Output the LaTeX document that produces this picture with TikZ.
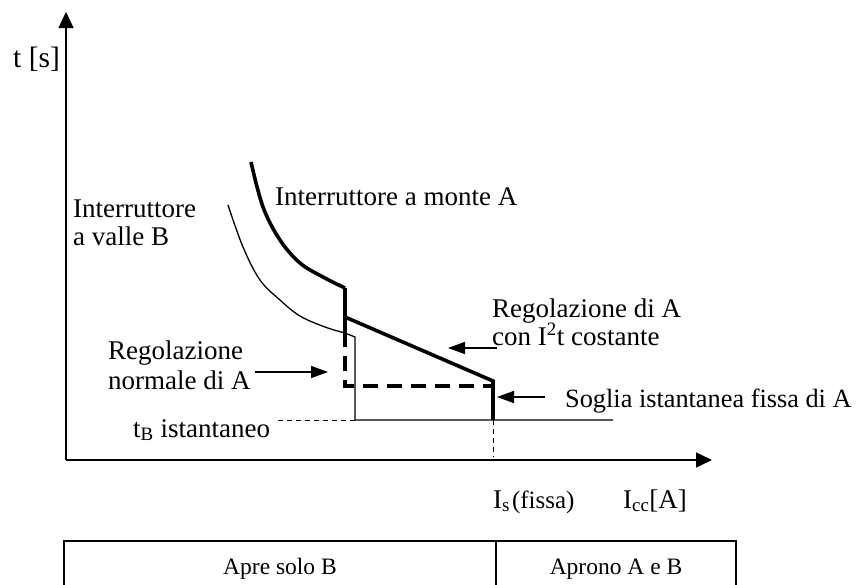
\documentclass[tikz,border=0pt]{standalone}
\usepackage{fontspec}
\setmainfont{Liberation Serif}
\usetikzlibrary{arrows.meta}
\tikzset{
  lbl/.style={inner sep=0pt, anchor=base west, font=\fontsize{27}{31}\selectfont},
  cell/.style={inner sep=0pt, anchor=base, font=\fontsize{23.5}{27}\selectfont},
  axis/.style={line width=1.5pt, -{Triangle[length=16pt,width=15pt]}},
  thickA/.style={line width=3.6pt},
  thinB/.style={line width=1.3pt},
  dashA/.style={line width=3.6pt, dash pattern=on 15pt off 9pt},
  guide/.style={line width=1pt, dash pattern=on 5pt off 4pt},
  pointer/.style={line width=1.6pt, -{Triangle[length=17pt,width=12pt]}},
  tablebox/.style={line width=1.8pt}
}
\begin{document}
\begin{tikzpicture}[x=1pt,y=-1pt]
\useasboundingbox (0,0) rectangle (857,584);
% axes
\coordinate (O) at (66,460);
\coordinate (ytip) at (66,12);
\coordinate (xtip) at (712,460);
\draw[axis] (O) -- (ytip);
\draw[axis] (O) -- (xtip);
\node[lbl, font=\fontsize{29.5}{33}\selectfont] (tlab) at (13,67) {t [s]};
% curve A
\coordinate (A1) at (345,288);
\coordinate (A2) at (345,332);
\coordinate (A3) at (345,317);
\coordinate (A4) at (493,381);
\coordinate (A5) at (493,420);
\coordinate (A6) at (345,386);
\coordinate (A7) at (493,386);
\draw[thickA, line join=round] plot[smooth, tension=0.6] coordinates {(251,162) (263,207) (280,240) (300,263) (323,277) (345,288)};
\draw[thickA] (A1) -- (A2);
\draw[thickA, line join=miter] (A3) -- (A4) -- (A5);
\draw[dashA] (A2) -- (A6) -- (A7);
% curve B
\coordinate (B1) at (355,337);
\coordinate (B2) at (355,420);
\coordinate (B3) at (613,420);
\draw[thinB] plot[smooth, tension=0.6] coordinates {(228,205) (243,247) (260,280) (280,300) (300,316) (325,327) (345,333)} -- (B1) -- (B2) -- (B3);
% guides
\coordinate (G1) at (278,420);
\coordinate (G2) at (493,457);
\draw[guide] (G1) -- (B2);
\draw[guide] (A5) -- (G2);
% labels
\node[lbl] (ivB1) at (73,217) {Interruttore};
\node[lbl] (ivB2) at (73,245) {a valle B};
\node[lbl] (imA) at (275,205) {Interruttore a monte A};
\node[lbl] (rA1) at (492,317) {Regolazione di A};
\node[lbl] (rA2) at (492,345) {con I\textsuperscript{2}t costante};
\node[lbl, font=\fontsize{26.3}{30}\selectfont] (sog) at (565,407) {Soglia istantanea fissa di A};
\node[lbl] (rn1) at (108,359) {Regolazione};
\node[lbl] (rn2) at (108,389) {normale di A};
\node[lbl] (tB) at (133,437) {t\textsubscript{B} istantaneo};
\node[lbl] (Is) at (493,508) {I\textsubscript{s}\kern2pt{\fontsize{25}{28}\selectfont(fissa)}};
\node[lbl] (Icc) at (623,508) {I\textsubscript{cc}[A]};
% pointers
\coordinate (p1s) at (255,372);
\coordinate (p1e) at (328,372);
\coordinate (p2s) at (497,348);
\coordinate (p2e) at (448,348);
\coordinate (p3s) at (545,397);
\coordinate (p3e) at (497,397);
\draw[pointer] (p1s) -- (p1e);
\draw[pointer] (p2s) -- (p2e);
\draw[pointer] (p3s) -- (p3e);
% table
\coordinate (T1) at (64,585);
\coordinate (T2) at (64,541);
\coordinate (T3) at (736,541);
\coordinate (T4) at (736,585);
\coordinate (D1) at (496,541);
\coordinate (D2) at (496,585);
\draw[tablebox, line join=miter] (T1) -- (T2) -- (T3) -- (T4);
\draw[tablebox] (D1) -- (D2);
\node[cell] (c1) at (280,574) {Apre solo B};
\node[cell] (c2) at (616,574) {Aprono A e B};
\end{tikzpicture}
\end{document}
